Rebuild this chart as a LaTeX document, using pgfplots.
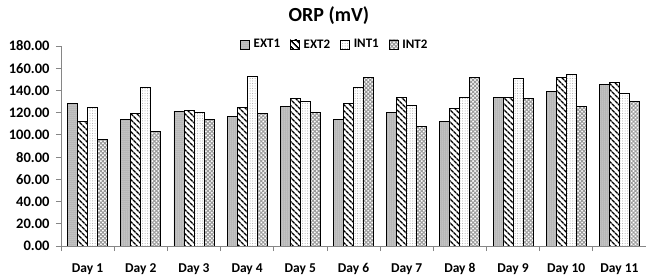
\documentclass[border=0pt]{standalone}
\usepackage{fontspec}
\setmainfont{Carlito}
\usepackage{pgfplots}
\pgfplotsset{compat=1.18}
\usetikzlibrary{patterns.meta}
\definecolor{axgray}{HTML}{868686}
\begin{document}
\begin{tikzpicture}
\useasboundingbox (-61pt,-30pt) rectangle (585pt,246pt);
\begin{axis}[
  at={(0,0)}, anchor=south west,
  width=585pt, height=200pt, scale only axis,
  ybar=0pt, bar width=10pt,
  xmin=0.5, xmax=11.5, ymin=0, ymax=180,
  enlargelimits=false,
  axis x line*=bottom, axis y line*=left,
  axis line style={-, draw=axgray, line width=0.8pt},
  tick style={draw=axgray, line width=0.8pt},
  tick align=outside, major tick length=5pt,
  ytick={0,20,...,180},
  xtick={0.5,1.5,...,11.5},
  xticklabels={Day 1,Day 2,Day 3,Day 4,Day 5,Day 6,Day 7,Day 8,Day 9,Day 10,Day 11,{}},
  xticklabel style={xshift=26.59pt, yshift=-9pt, font=\fontsize{13.5}{14}\selectfont\bfseries},
  yticklabel style={xshift=-3pt, font=\fontsize{14.5}{15}\selectfont\bfseries, /pgf/number format/.cd, fixed, fixed zerofill, precision=2},
  /pgf/number format/assume math mode=true,
  title={ORP (mV)},
  title style={at={(0.458,1)}, anchor=center, yshift=24pt, font=\fontsize{20}{20}\selectfont\bfseries},
  legend style={at={(0.468,1)}, anchor=center, yshift=1.5pt, draw=none, fill=none, legend columns=4,
    font=\fontsize{13}{14}\selectfont\bfseries,
    /tikz/every odd column/.append style={column sep=2pt},
    /tikz/every even column/.append style={column sep=8pt}},
  legend image code/.code={\draw[#1, line width=0.5pt] (0pt,-4.5pt) rectangle (9pt,4.5pt);},
  every axis plot/.append style={draw=black, line width=0.9pt},
]
\addplot[fill=black!30, postaction={pattern={Dots[distance=2pt,radius=0.5pt]}, pattern color=white}]
 coordinates {(1,128.7) (2,113.5) (3,121.5) (4,116.5) (5,125.5) (6,114) (7,120) (8,112.5) (9,133.5) (10,139) (11,145.5)};
\addplot[fill=white, postaction={pattern={Lines[angle=-45,distance=4pt,line width=1.6pt]}, pattern color=black}]
 coordinates {(1,112.5) (2,119) (3,122) (4,125) (5,133) (6,128) (7,133.5) (8,123.5) (9,133.5) (10,151.5) (11,147.5)};
\addplot[fill=white, postaction={pattern={Dots[distance=2.5pt,radius=0.5pt]}, pattern color=black!35}]
 coordinates {(1,124.5) (2,142.5) (3,120.5) (4,152.5) (5,130) (6,143) (7,126.5) (8,134) (9,151) (10,154.5) (11,137)};
\addplot[fill=white, postaction={pattern={Hatch[angle=45,distance=2.8pt,line width=1pt]}, pattern color=black!40}]
 coordinates {(1,95.5) (2,103.5) (3,113.5) (4,119.5) (5,120.5) (6,151.5) (7,108) (8,151.5) (9,133) (10,126) (11,130.5)};
\legend{EXT1,EXT2,INT1,INT2}
\end{axis}
\end{tikzpicture}
\end{document}
